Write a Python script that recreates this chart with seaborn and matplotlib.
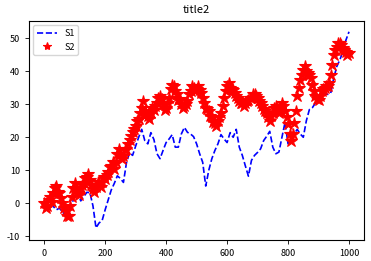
import matplotlib
matplotlib.use("Agg")
import matplotlib.pyplot as plt
import seaborn as sns
import pandas as pd

x1_vals = list(range(0, 1001, 10))
s1_vals = [0, 0.5, 0.7, -1, -2, -1.5, -2.7, -3.5, -4.8, -0.3,
           2, 3.3, 0.7, 2, 3.3, 3.2, -0.8, -7.5, -6, -5.3,
           -2, 1, 4, 6, 8.3, 7.5, 6.3, 12.3, 15.3, 14.5,
           17.3, 20, 22.4, 19, 18, 21.4, 19.3, 15, 13.5, 16,
           18.4, 19.5, 20.8, 17, 17, 21, 23, 21.5, 21, 20.2,
           18, 15, 12.4, 5.2, 10, 13.5, 16, 18, 20.8, 19.5,
           18.4, 21.4, 20, 22.4, 17, 14.5, 11.3, 8.2, 13, 14.5,
           15.4, 16.5, 19, 20.3, 21.8, 17, 15, 15.5, 20, 24.5,
           18, 19, 21, 22.4, 21, 20, 25, 28.4, 29, 30.4,
           31, 33, 33.2, 33, 33.4, 38, 41.5, 43.5, 46, 49.5,
           52]

x2_vals = list(range(0, 1001, 5))
s2_vals = [0, -1.5, -1, 1, 2, 0.5, 3, 4.5, 5.2, 3.5,
           3, 1.5, 0, -1.5, -2.5, -4, -3.8, -1, 2, 4.5,
           6, 4, 3.2, 2.5, 4.5, 5.5, 6, 7.5, 8, 9,
           7, 5.5, 4.2, 3.5, 5, 6.5, 6.3, 5, 6.5, 8,
           7.3, 8.5, 9.5, 11, 11.3, 12.5, 10.3, 12.5, 15, 16.5,
           15, 13.5, 14.3, 16, 16.5, 18, 19.3, 20.5, 21.5, 22.5,
           23.4, 25, 25.5, 27.5, 29, 31, 28, 27, 26.4, 25.5,
           27.5, 29, 28.4, 29.5, 30.5, 32, 32.4, 31.5, 30, 28.4,
           29, 30.5, 32, 34.5, 36, 35.5, 34, 33, 31.4, 31.5,
           30, 29, 29.4, 30, 31, 33, 34, 35.5, 35, 34,
           34.5, 35.5, 34.4, 33.5, 32, 30.5, 29, 28.5, 28, 26.5,
           26, 24.5, 24.4, 23.5, 25, 26, 27.4, 29.5, 32, 34,
           35.4, 36.5, 35, 34.5, 34.4, 33.5, 32.5, 32, 31, 30.5,
           30.4, 29.5, 30.5, 31, 31.4, 32, 32, 33, 33, 32.5,
           32, 31, 30.4, 29.5, 28.5, 28, 27.4, 26, 25, 26.5,
           27.5, 29, 29.4, 28.5, 27.5, 28.5, 30.4, 29.5, 28, 26,
           24, 21, 19, 21, 24.4, 28, 32.4, 35, 37.5, 39,
           40.5, 41.5, 40, 39.5, 39, 38, 36, 34, 32.5, 31.5,
           31.4, 32.5, 34, 34.5, 35, 35.5, 35.4, 36.5, 39, 42,
           45, 46.5, 47.5, 48.5, 48.5, 48, 47, 46.5, 46, 45,
           45.5]

title_text = "title2"
labels = ["S1", "S2"]

plt.rcParams['font.family'] = ['Noto Sans CJK SC', 'DejaVu Sans']
plt.rcParams['axes.unicode_minus'] = False

df1 = pd.DataFrame({"x": x1_vals, "y": s1_vals})
df2 = pd.DataFrame({"x": x2_vals, "y": s2_vals})

fig = plt.figure(figsize=(3.71, 2.61), dpi=100)
ax = fig.add_axes([0.078, 0.080, 0.903, 0.840])

sns.lineplot(data=df1, x="x", y="y", ax=ax, color="b", linestyle="--",
             linewidth=1.2, label=labels[0])
sns.lineplot(data=df2, x="x", y="y", ax=ax, color="r", linestyle="",
             marker="*", markersize=9, markeredgewidth=0.8,
             markeredgecolor="r", label=labels[1])

ax.set_xlabel("")
ax.set_ylabel("")
ax.set_title(title_text, fontsize=8)
ax.set_xticks([0, 200, 400, 600, 800, 1000])
ax.set_yticks([-10, 0, 10, 20, 30, 40, 50])
ax.tick_params(labelsize=6.5, length=3, width=0.6)
for s in ax.spines.values():
    s.set_linewidth(0.8)
ax.set_xlim(-50, 1049)
ax.set_ylim(-11.2, 55.3)
leg = ax.legend(loc="upper left", fontsize=6.5, handlelength=2.2)
for h in leg.legend_handles:
    h.set_markersize(6)

fig.savefig("out.png", dpi=100)
